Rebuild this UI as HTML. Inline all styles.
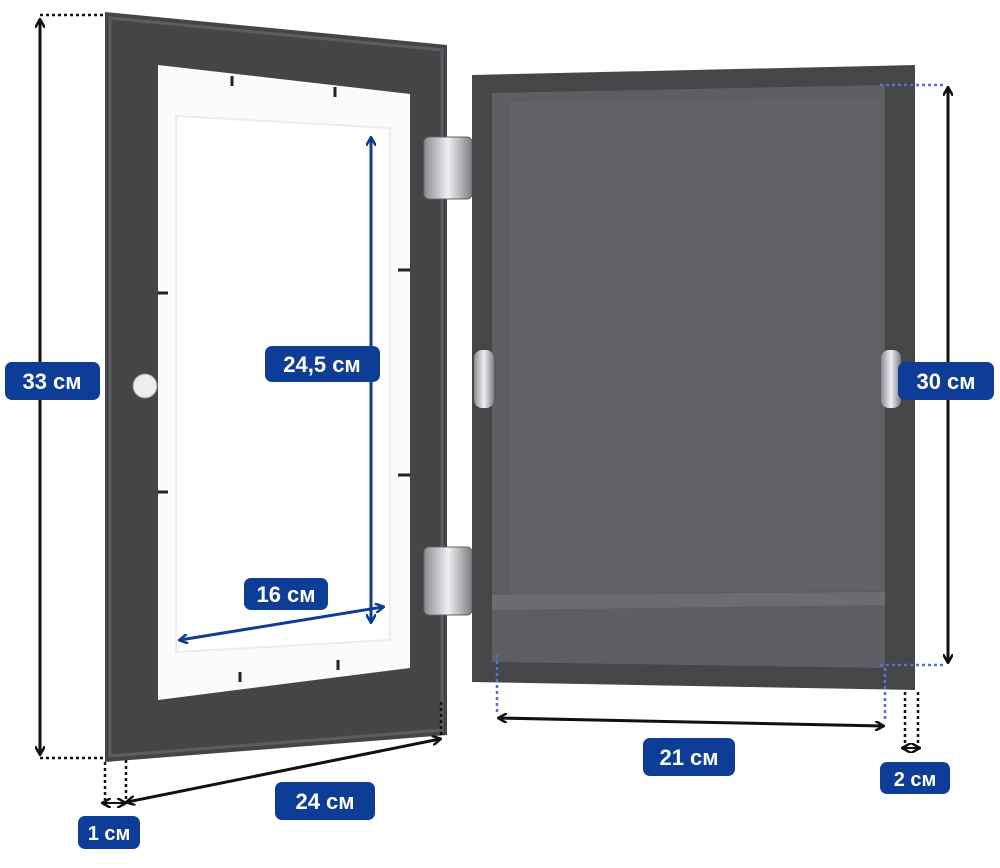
<!DOCTYPE html>
<html><head><meta charset="utf-8"><style>
html,body{margin:0;padding:0;background:#fff;}
svg{display:block}
text{font-family:"Liberation Sans",sans-serif;font-weight:bold;fill:#fff;}
</style></head><body>
<svg width="1000" height="868" viewBox="0 0 1000 868" xmlns="http://www.w3.org/2000/svg">
<defs>
<marker id="ab" markerWidth="10" markerHeight="10" refX="8" refY="5" orient="auto-start-reverse" markerUnits="userSpaceOnUse"><path d="M0,0 L9,5 L0,10" fill="none" stroke="#111" stroke-width="2.5"/></marker>
<marker id="abl" markerWidth="10" markerHeight="10" refX="8" refY="5" orient="auto-start-reverse" markerUnits="userSpaceOnUse"><path d="M0,0 L9,5 L0,10" fill="none" stroke="#0d3d96" stroke-width="2.5"/></marker>
<linearGradient id="sil" x1="0" x2="1"><stop offset="0" stop-color="#8a8c90"/><stop offset="0.5" stop-color="#eef0f2"/><stop offset="1" stop-color="#7c7e82"/></linearGradient>
</defs>
<!-- left frame -->
<polygon points="105,12 447,45 447,735 105,762" fill="#444547"/>
<polygon points="110,18 442,50 442,730 110,756" fill="none" stroke="#5c5d60" stroke-width="3"/>
<polygon points="158,65 410,94 410,668 158,700" fill="#fbfbfb"/>
<polygon points="176,116 390,128 390,640 176,652" fill="#ffffff" stroke="#eceded" stroke-width="2"/>
<!-- clips -->
<g stroke="#222" stroke-width="3">
<line x1="232" y1="76" x2="232" y2="86"/><line x1="335" y1="87" x2="335" y2="97"/>
<line x1="398" y1="270" x2="410" y2="270"/><line x1="398" y1="475" x2="410" y2="475"/>
<line x1="158" y1="293" x2="168" y2="293"/><line x1="158" y1="492" x2="168" y2="492"/>
<line x1="240" y1="672" x2="240" y2="682"/><line x1="338" y1="660" x2="338" y2="670"/>
</g>
<circle cx="145" cy="386" r="12" fill="#eee" stroke="#999"/>
<!-- hinges -->
<rect x="424" y="137" width="48" height="62" rx="5" fill="url(#sil)" stroke="#666"/>
<rect x="424" y="547" width="48" height="68" rx="5" fill="url(#sil)" stroke="#666"/>
<!-- right frame -->
<polygon points="472,75 915,65 915,690 472,682" fill="#454648"/>
<polygon points="492,93 885,85 885,668 492,662" fill="#5d5e61"/>
<polygon points="510,102 880,98 880,590 510,595" fill="#626366"/>
<polygon points="492,595 885,592 885,605 492,610" fill="#6c6d70"/>
<rect x="474" y="350" width="20" height="58" rx="8" fill="url(#sil)"/>
<rect x="881" y="350" width="20" height="58" rx="8" fill="url(#sil)"/>
<!-- black dimension lines -->
<g stroke="#111" stroke-width="3" fill="none">
<line x1="40" y1="20" x2="40" y2="754" marker-start="url(#ab)" marker-end="url(#ab)"/>
<line x1="127" y1="802" x2="440" y2="739" marker-start="url(#ab)" marker-end="url(#ab)"/>
<line x1="948" y1="88" x2="948" y2="662" marker-start="url(#ab)" marker-end="url(#ab)"/>
<line x1="499" y1="718" x2="883" y2="726" marker-start="url(#ab)" marker-end="url(#ab)"/>
<line x1="103" y1="803" x2="125" y2="803" stroke-width="2" marker-start="url(#ab)" marker-end="url(#ab)"/>
<line x1="903" y1="748" x2="919" y2="748" stroke-width="2" marker-start="url(#ab)" marker-end="url(#ab)"/>
</g>
<g stroke="#111" stroke-width="2.5" stroke-dasharray="3,3" fill="none">
<line x1="40" y1="15" x2="104" y2="15"/><line x1="40" y1="758" x2="104" y2="758"/>
<line x1="105" y1="762" x2="105" y2="800"/><line x1="126" y1="760" x2="126" y2="800"/>
<line x1="441" y1="702" x2="441" y2="735"/>
<line x1="905" y1="692" x2="905" y2="745"/><line x1="918" y1="692" x2="918" y2="745"/>
</g>
<g stroke="#5b6fd6" stroke-width="2.5" stroke-dasharray="3,3" fill="none">
<line x1="880" y1="85" x2="945" y2="85"/><line x1="880" y1="665" x2="945" y2="665"/>
<line x1="497" y1="655" x2="497" y2="715"/><line x1="885" y1="668" x2="885" y2="722"/>
</g>
<!-- blue arrows -->
<g stroke="#0d3d96" stroke-width="3">
<line x1="371" y1="138" x2="371" y2="622" marker-start="url(#abl)" marker-end="url(#abl)"/>
<line x1="180" y1="640" x2="383" y2="607" marker-start="url(#abl)" marker-end="url(#abl)"/>
</g>
<!-- labels -->
<g fill="#0d3d96">
<rect x="5" y="362" width="95" height="38" rx="7"/>
<rect x="265" y="346" width="115" height="36" rx="7"/>
<rect x="244" y="578" width="84" height="32" rx="7"/>
<rect x="898" y="362" width="96" height="38" rx="7"/>
<rect x="643" y="738" width="92" height="38" rx="7"/>
<rect x="275" y="782" width="100" height="38" rx="7"/>
<rect x="78" y="816" width="62" height="33" rx="7"/>
<rect x="880" y="762" width="70" height="32" rx="7"/>
</g>
<g font-size="22" text-anchor="middle">
<text x="52" y="389">33 см</text>
<text x="322" y="372">24,5 см</text>
<text x="286" y="602">16 см</text>
<text x="946" y="389">30 см</text>
<text x="689" y="765">21 см</text>
<text x="325" y="809">24 см</text>
<text x="109" y="840" font-size="20">1 см</text>
<text x="915" y="786" font-size="20">2 см</text>
</g>
</svg>
</body></html>
